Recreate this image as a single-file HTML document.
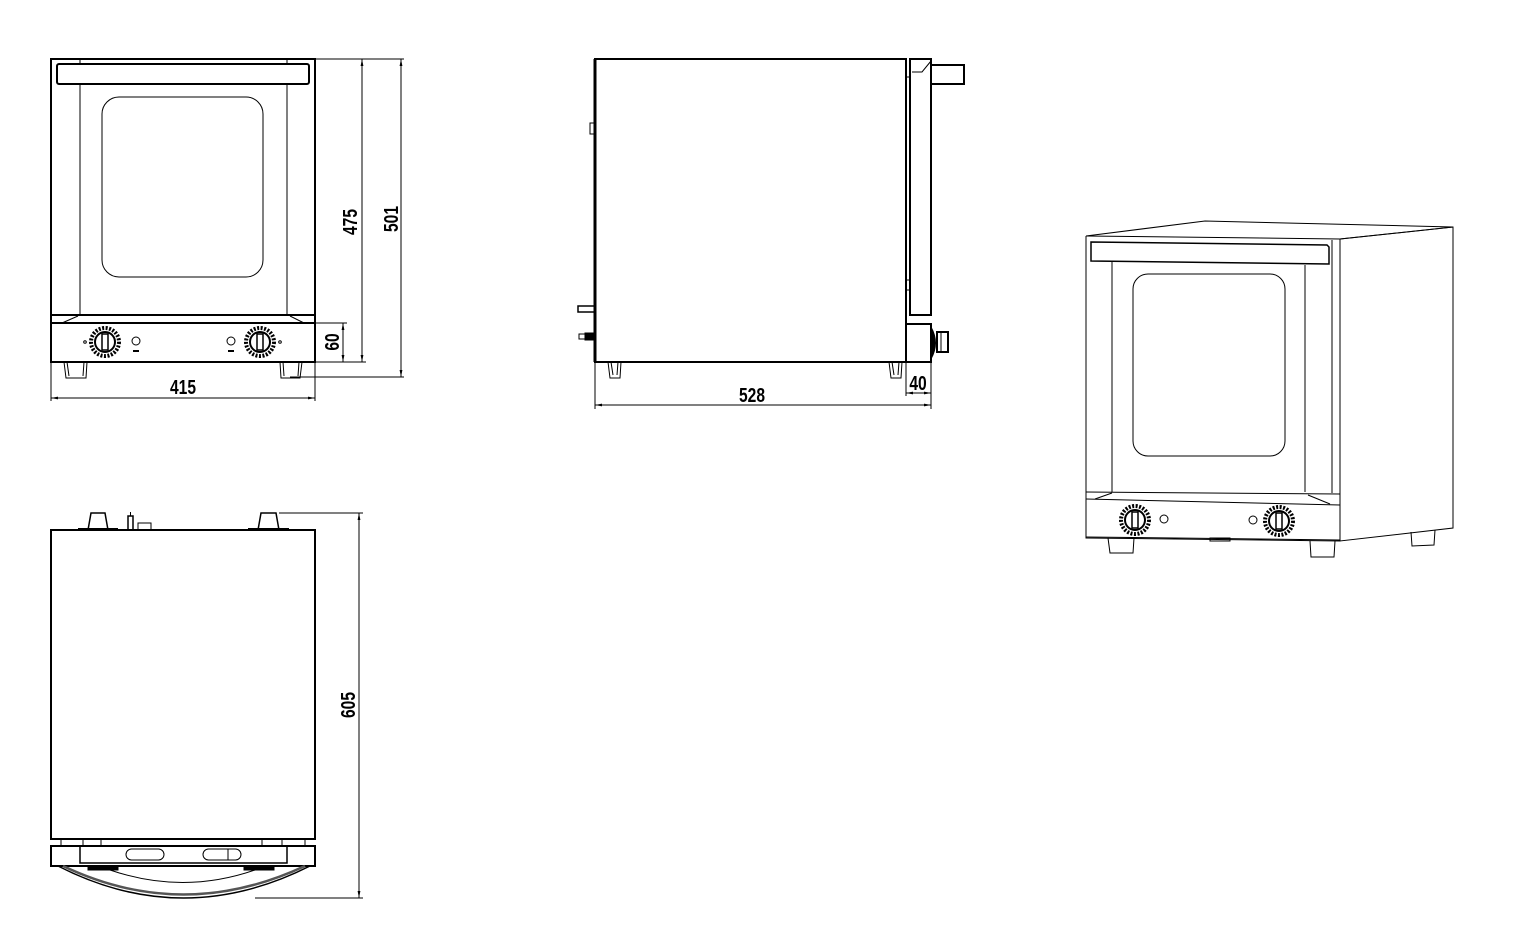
<!DOCTYPE html>
<html><head><meta charset="utf-8"><style>
html,body{margin:0;padding:0;background:#fff;}
svg{display:block;}
text{font-family:"Liberation Sans Narrow","Liberation Sans",sans-serif;font-weight:bold;font-size:20px;fill:#000;}
</style></head><body>
<svg width="1530" height="943" viewBox="0 0 1530 943" xmlns="http://www.w3.org/2000/svg">
<defs>
<marker id="a" viewBox="0 0 10 10" refX="10" refY="5" markerWidth="7" markerHeight="7" orient="auto-start-reverse"><path d="M0,3 L10,5 L0,7 z" fill="#000"/></marker>
<g id="knob">
<circle r="14" fill="none" stroke="#000" stroke-width="4" stroke-dasharray="2 1.5"/>
<circle r="10" fill="#fff" stroke="#000" stroke-width="2"/>
<rect x="-3" y="-8" width="6" height="16" fill="#fff" stroke="#000" stroke-width="1.5"/>
</g>
</defs>
<g fill="none" stroke="#000" stroke-width="1">
<rect x="51" y="59" width="264" height="303" stroke-width="2"/>
<rect x="57" y="64" width="252" height="20" rx="2" stroke-width="2"/>
<line x1="80" y1="84" x2="80" y2="315"/><line x1="287" y1="84" x2="287" y2="315"/>
<line x1="80" y1="59" x2="80" y2="64"/><line x1="287" y1="59" x2="287" y2="64"/>
<rect x="102" y="97" width="161" height="180" rx="17"/>
<line x1="51" y1="315" x2="315" y2="315" stroke-width="2"/>
<line x1="51" y1="323" x2="315" y2="323" stroke-width="2"/>
<line x1="62" y1="323" x2="78" y2="316"/><line x1="304" y1="323" x2="290" y2="316"/>
<use href="#knob" x="105" y="342"/><use href="#knob" x="260" y="342"/>
<circle cx="136" cy="341" r="4"/><circle cx="231" cy="341" r="4"/>
<circle cx="85" cy="342" r="1.3"/><circle cx="280" cy="342" r="1.3"/>
<line x1="133" y1="351" x2="139" y2="351" stroke-width="2"/><line x1="228" y1="351" x2="234" y2="351" stroke-width="2"/>
<path d="M64,362 L66,378 L86,378 L87,362 M67,362 L69,376 M84,362 L83,376"/>
<path d="M280,362 L281,378 L300,378 L302,362 M283,362 L284,376 M299,362 L298,376"/>
<line x1="315" y1="59" x2="404" y2="59"/>
<line x1="315" y1="362" x2="366" y2="362"/>
<line x1="290" y1="377" x2="404" y2="377"/>
<line x1="315" y1="323" x2="347" y2="323"/>
<line x1="362" y1="59" x2="362" y2="362" marker-start="url(#a)" marker-end="url(#a)"/>
<line x1="401" y1="59" x2="401" y2="377" marker-start="url(#a)" marker-end="url(#a)"/>
<line x1="343" y1="323" x2="343" y2="362" marker-start="url(#a)" marker-end="url(#a)"/>
<line x1="51" y1="362" x2="51" y2="401"/><line x1="315" y1="362" x2="315" y2="401"/>
<line x1="51" y1="398" x2="315" y2="398" marker-start="url(#a)" marker-end="url(#a)"/>

<rect x="595" y="59" width="311" height="303" stroke-width="2"/>
<line x1="595" y1="59" x2="595" y2="362" stroke-width="3"/>
<path d="M910,59 L931,59 L931,315 L910,315 Z" stroke-width="2"/>
<path d="M912,72 L922,72 L931,61"/>
<line x1="906" y1="77" x2="910" y2="77"/><line x1="906" y1="280" x2="910" y2="280"/><line x1="906" y1="290" x2="910" y2="290"/>
<rect x="931" y="65" width="33" height="19" stroke-width="2"/>
<rect x="906" y="324" width="25" height="38" stroke-width="2"/>
<path d="M931,327 Q940,343 931,359" fill="#000"/>
<rect x="937" y="332" width="11" height="20" stroke-width="2"/>
<line x1="941" y1="332" x2="941" y2="352"/>
<rect x="590" y="123" width="5" height="11"/>
<rect x="578" y="306" width="17" height="6" stroke-width="1.5"/>
<rect x="579" y="334" width="6" height="5"/><rect x="585" y="333" width="9" height="7" fill="#000"/>
<path d="M608,362 L610,378 L620,378 L621,362 M611,362 L613,375 M618,362 L617,375"/>
<path d="M889,362 L891,378 L901,378 L902,362 M892,362 L894,375 M899,362 L898,375"/>
<line x1="595" y1="362" x2="595" y2="409"/><line x1="931" y1="362" x2="931" y2="409"/>
<line x1="906" y1="362" x2="906" y2="396"/>
<line x1="595" y1="405" x2="931" y2="405" marker-start="url(#a)" marker-end="url(#a)"/>
<line x1="906" y1="393" x2="931" y2="393" marker-start="url(#a)" marker-end="url(#a)"/>

<rect x="51" y="530" width="264" height="309" stroke-width="2"/>
<line x1="51" y1="839" x2="315" y2="839" stroke-width="2"/>
<rect x="51" y="846" width="264" height="20" stroke-width="2"/>
<rect x="80" y="846" width="207" height="17" stroke-width="1.5"/>
<line x1="83" y1="839" x2="83" y2="846"/><line x1="101" y1="839" x2="101" y2="846"/><line x1="262" y1="839" x2="262" y2="846"/><line x1="282" y1="839" x2="282" y2="846"/>
<line x1="61" y1="839" x2="61" y2="846"/><line x1="305" y1="839" x2="305" y2="846"/>
<rect x="126" y="849" width="38" height="11" rx="5.5"/>
<rect x="203" y="849" width="38" height="11" rx="5.5"/>
<line x1="228" y1="849" x2="228" y2="860"/>
<path d="M58,866 Q183,930 310,866" stroke-width="1.5"/>
<path d="M63,866 Q183,923 305,866" stroke-width="2.5" stroke="#555"/>
<path d="M110,870 Q183,895 255,870"/>
<rect x="88" y="866" width="30" height="4" fill="#000"/><rect x="244" y="866" width="30" height="4" fill="#000"/>
<path d="M91,513 L88,530 L108,530 L105,513 Z" stroke-width="1.5"/>
<path d="M261,513 L258,530 L279,530 L276,513 Z" stroke-width="1.5"/>
<line x1="78" y1="529" x2="118" y2="529" stroke-width="2"/><line x1="248" y1="529" x2="289" y2="529" stroke-width="2"/>
<rect x="128" y="516" width="5" height="14" stroke-width="1.5"/><line x1="130.5" y1="512" x2="130.5" y2="516"/>
<rect x="138" y="523" width="13" height="7"/>
<line x1="279" y1="513" x2="363" y2="513"/><line x1="255" y1="898" x2="363" y2="898"/>
<line x1="359" y1="513" x2="359" y2="898" marker-start="url(#a)" marker-end="url(#a)"/>

<path d="M1086,236 L1205,221 L1453,227 L1340,239 L1086,236 Z"/>
<path d="M1340,239 L1453,227 L1453,528 L1340,541 Z"/>
<path d="M1086,236 L1086,538 L1340,541 L1340,239"/>
<path d="M1091,242 L1327,245 L1329,247 L1329,264 L1091,261 Z" stroke-width="1.5"/>
<line x1="1112" y1="262" x2="1112" y2="492"/><line x1="1305" y1="265" x2="1305" y2="492"/>
<line x1="1332" y1="240" x2="1332" y2="493"/>
<rect x="1133" y="274" width="152" height="182" rx="15"/>
<line x1="1086" y1="492" x2="1340" y2="494"/>
<line x1="1086" y1="499" x2="1340" y2="505"/>
<line x1="1086" y1="537" x2="1340" y2="540"/>
<line x1="1095" y1="499" x2="1112" y2="493"/><line x1="1330" y1="504" x2="1308" y2="495"/>
<use href="#knob" x="1135" y="520"/><use href="#knob" x="1279" y="521"/>
<circle cx="1164" cy="519" r="4"/><circle cx="1253" cy="520" r="4"/>
<path d="M1108,538 L1110,553 L1133,553 L1134,538"/>
<path d="M1310,541 L1311,557 L1334,557 L1335,541"/>
<path d="M1411,532 L1412,546 L1434,545 L1435,530"/>
<rect x="1210" y="538" width="20" height="3"/>
</g>
<text transform="translate(183,394) scale(0.78,1)" text-anchor="middle">415</text>
<text transform="translate(357,222) rotate(-90) scale(0.78,1)" text-anchor="middle">475</text>
<text transform="translate(398,219) rotate(-90) scale(0.78,1)" text-anchor="middle">501</text>
<text transform="translate(339,342) rotate(-90) scale(0.78,1)" text-anchor="middle">60</text>
<text transform="translate(752,402) scale(0.78,1)" text-anchor="middle">528</text>
<text transform="translate(918,390) scale(0.78,1)" text-anchor="middle">40</text>
<text transform="translate(355,705) rotate(-90) scale(0.78,1)" text-anchor="middle">605</text>
</svg>
</body></html>
